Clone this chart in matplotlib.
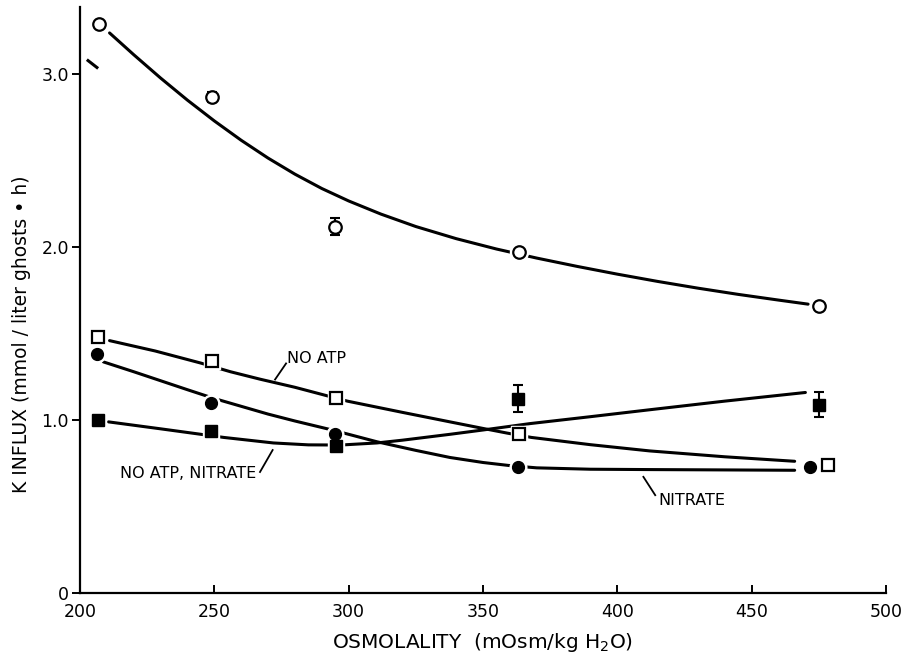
import numpy as np
import matplotlib
matplotlib.use("Agg")
import matplotlib.pyplot as plt

plt.rcParams['font.family'] = ['DejaVu Sans']

# ==========================
# Data points
# ==========================
# control (open circles)
ctrl_x = [207, 249, 295, 363.5, 475]
ctrl_y = [3.29, 2.87, 2.12, 1.97, 1.66]
ctrl_err = [0, 0.03, 0.05, 0, 0]

# no ATP (open squares)
noatp_x = [206.6, 249, 295.3, 363.5, 478.4]
noatp_y = [1.48, 1.34, 1.13, 0.92, 0.74]

# nitrate (filled circles)
nitr_x = [206.5, 248.8, 294.8, 363, 471.8]
nitr_y = [1.38, 1.10, 0.92, 0.73, 0.73]

# no ATP, nitrate (filled squares)
both_x = [206.6, 248.9, 295.1, 363.2, 474.9]
both_y = [1.00, 0.94, 0.85, 1.125, 1.09]
both_err = [0, 0, 0, 0.077, 0.07]

# ==========================
# Hand-drawn fitted curves
# ==========================
ctrl_cx = [211, 220, 230, 240, 250, 260, 270, 280, 290, 300, 312, 325, 340, 355,
           370, 385, 400, 415, 430, 445, 460, 471]
ctrl_cy = [3.24, 3.114, 2.979, 2.851, 2.731, 2.619, 2.516, 2.423, 2.340, 2.268, 2.192,
           2.120, 2.050, 1.990, 1.9375, 1.8895, 1.8445, 1.8025, 1.7635, 1.7275, 1.6945, 1.671]

noatp_cx = [211, 228, 245, 256, 267, 280, 299.5, 320, 337.7, 350, 359, 368, 390, 412, 440, 466]
noatp_cy = [1.46, 1.40, 1.33, 1.28, 1.237, 1.19, 1.11, 1.045, 0.99, 0.952, 0.925, 0.90, 0.858, 0.822, 0.788, 0.762]

nitr_cx = [208.7, 220, 230, 240, 250, 260, 270, 280, 292, 300, 310.5, 325, 337.7, 350,
           360, 370, 390, 412, 440, 466]
nitr_cy = [1.337, 1.28, 1.228, 1.176, 1.125, 1.08, 1.035, 0.995, 0.95, 0.918, 0.875,
           0.825, 0.784, 0.755, 0.737, 0.724, 0.716, 0.714, 0.712, 0.71]

both_cx = [210.6, 229.9, 253.5, 272, 285, 297, 310.5, 320, 337.7, 350, 359, 367.5, 390, 412, 440, 470]
both_cy = [0.99, 0.95, 0.90, 0.868, 0.857, 0.856, 0.868, 0.884, 0.918, 0.943, 0.962, 0.98, 1.02, 1.06, 1.11, 1.16]

# small stray stroke near the top-left
stray_x = [203, 206.3]
stray_y = [3.08, 3.04]

# ==========================
# Figure
# ==========================
fig = plt.figure(figsize=(9.04, 6.55), dpi=100)
ax = fig.add_axes([80/904, 1-593/655, 806/904, 586/655])

lw = 2.2
for cx, cy in [(ctrl_cx, ctrl_cy), (noatp_cx, noatp_cy), (nitr_cx, nitr_cy), (both_cx, both_cy)]:
    ax.plot(cx, cy, color='black', lw=lw, solid_capstyle='round', solid_joinstyle='round', zorder=2)
ax.plot(stray_x, stray_y, color='black', lw=lw, zorder=2)

# white halos so the lines break around the symbols
ax.plot(ctrl_x, ctrl_y, ls='none', marker='o', ms=13, mfc='white', mec='white', zorder=3)
ax.plot(noatp_x, noatp_y, ls='none', marker='s', ms=11.5, mfc='white', mec='white', zorder=3)
ax.plot(nitr_x, nitr_y, ls='none', marker='o', ms=12, mfc='white', mec='white', zorder=3)
ax.plot(both_x, both_y, ls='none', marker='s', ms=11.5, mfc='white', mec='white', zorder=3)

ax.errorbar(ctrl_x, ctrl_y, yerr=ctrl_err, fmt='none', ecolor='black', elinewidth=1.5,
            capsize=3.5, capthick=1.5, zorder=3.5)
ax.errorbar(both_x, both_y, yerr=both_err, fmt='none', ecolor='black', elinewidth=1.5,
            capsize=3.5, capthick=1.5, zorder=3.5)

ax.plot(ctrl_x, ctrl_y, ls='none', marker='o', ms=9, mfc='white', mec='black', mew=1.6, zorder=4)
ax.plot(noatp_x, noatp_y, ls='none', marker='s', ms=8, mfc='white', mec='black', mew=1.6, zorder=4)
ax.plot(nitr_x, nitr_y, ls='none', marker='o', ms=8.5, mfc='black', mec='black', zorder=4)
ax.plot(both_x, both_y, ls='none', marker='s', ms=8, mfc='black', mec='black', zorder=4)

# labels on the curves
ax.text(277, 1.357, "NO ATP", fontsize=11.5, va='center', ha='left')
ax.plot([272.6, 276.7], [1.235, 1.328], color='black', lw=1.3)
ax.text(265.5, 0.692, "NO ATP, NITRATE", fontsize=11.5, va='center', ha='right')
ax.plot([267, 271.7], [0.70, 0.827], color='black', lw=1.3)
ax.text(415.3, 0.534, "NITRATE", fontsize=11.5, va='center', ha='left')
ax.plot([409.7, 414.1], [0.672, 0.566], color='black', lw=1.3)

# ==========================
# Axes styling
# ==========================
ax.set_xlim(200, 500)
ax.set_ylim(0, 3.39)
ax.spines['top'].set_visible(False)
ax.spines['right'].set_visible(False)
ax.spines['left'].set_linewidth(1.6)
ax.spines['bottom'].set_linewidth(1.6)

ax.set_xticks([200, 250, 300, 350, 400, 450, 500])
ax.set_yticks([0, 1, 2, 3])
ax.set_yticklabels(["0", "1.0", "2.0", "3.0"])
ax.tick_params(axis='x', direction='in', length=6, width=1.4, labelsize=12.5, pad=7.5)
ax.tick_params(axis='y', direction='out', length=6, width=1.4, labelsize=12.5, pad=2)

ax.set_xlabel("OSMOLALITY  (mOsm/kg H$_2$O)", fontsize=14.5)
ax.xaxis.set_label_coords(0.5, -(642-593)/586)
ax.xaxis.label.set_va('center')
ax.set_ylabel("K INFLUX (mmol / liter ghosts \u2022 h)", fontsize=13.5)
ax.yaxis.set_label_coords((22-80)/806, 0.442)
ax.yaxis.label.set_va('center')

fig.savefig("out.png", dpi=100)
